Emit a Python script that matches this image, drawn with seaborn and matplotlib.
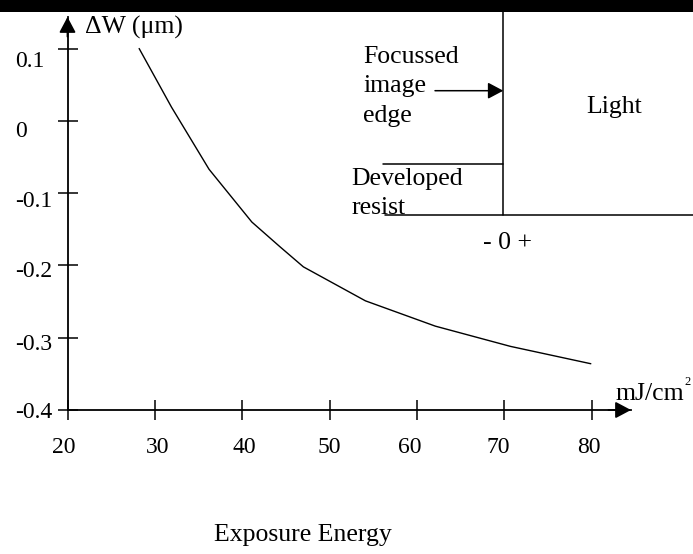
import matplotlib
matplotlib.use("Agg")
import matplotlib.pyplot as plt
import matplotlib.transforms as mtransforms
from matplotlib.lines import Line2D
from matplotlib.patches import Rectangle
import seaborn as sns
import pandas as pd

# Linewidth change versus exposure energy
energy = [28.2, 31.9, 36.2, 41.1, 44.3, 47.0, 54.1, 62.1, 70.7, 79.9]
delta_w = [0.100, 0.019, -0.067, -0.140, -0.174, -0.202, -0.249, -0.284, -0.312, -0.336]

x_ticks = [20, 30, 40, 50, 60, 70, 80]
x_tick_labels = ["20", "30", "40", "50", "60", "70", "80"]
y_ticks = [-0.4, -0.3, -0.2, -0.1, 0.0, 0.1]
y_tick_labels = ["-0.4", "-0.3", "-0.2", "-0.1", "0", "0.1"]

# hand-set nudges (pixels) of the tick labels
x_label_shift_px = [-4, 3, 2, 0, -7, -6, -3]
y_label_drop_px = [0, 4, 4, 6, 8, 10]

sns.set_theme(style="white")
plt.rcParams["font.family"] = ["Liberation Serif", "DejaVu Serif"]

W, H = 693, 554
fig = plt.figure(figsize=(W / 100, H / 100), dpi=100)


def fx(px):
    return px / W


def fy(py):
    return 1 - py / H


# axes frame: origin (20, -0.4) at pixel (67.5, 410)
ax = fig.add_axes([fx(67.5), fy(410), (631 - 67.5) / W, (410 - 17) / H])
df = pd.DataFrame({"energy": energy, "dw": delta_w})
sns.lineplot(data=df, x="energy", y="dw", ax=ax, color="black", lw=1.0, sort=False)

ax.set_xlim(20, 84.5)
ax.set_ylim(-0.4, 0.1436)

for side in ("top", "right"):
    ax.spines[side].set_visible(False)
for side in ("left", "bottom"):
    ax.spines[side].set_color("black")
    ax.spines[side].set_linewidth(1.3)

ax.set_xticks(x_ticks, labels=x_tick_labels)
ax.set_yticks(y_ticks, labels=y_tick_labels)
ax.tick_params(axis="both", direction="inout", length=14.4, width=1.1,
               color="black", labelcolor="black", labelsize=17,
               bottom=True, left=True)
ax.tick_params(axis="x", pad=12.0)
ax.tick_params(axis="y", pad=30.6)

for lab, dx in zip(ax.get_xticklabels(), x_label_shift_px):
    lab.set_transform(lab.get_transform() +
                      mtransforms.ScaledTranslation(dx / 100, 0, fig.dpi_scale_trans))
for lab, dy in zip(ax.get_yticklabels(), y_label_drop_px):
    lab.set_horizontalalignment("left")
    lab.set_transform(lab.get_transform() +
                      mtransforms.ScaledTranslation(0, -dy / 100, fig.dpi_scale_trans))

ax.set_xlabel("Exposure Energy", fontsize=18.5, color="black")
ax.xaxis.label.set_verticalalignment("baseline")
ax.xaxis.set_label_coords(0.418, -0.3333)

ax.set_ylabel("\u0394W (\u03bcm)", fontsize=18.5, color="black", rotation=0)
ax.yaxis.label.set_horizontalalignment("left")
ax.yaxis.label.set_verticalalignment("baseline")
ax.yaxis.set_label_coords(0.031, 0.9567)

# axis arrowheads
head = dict(arrowstyle="-|>,head_length=0.94,head_width=0.5", color="black",
            lw=1.3, shrinkA=0, shrinkB=0, mutation_scale=10)
ax.annotate("", xy=(0, 1), xycoords="axes fraction",
            xytext=(0, 0.95), textcoords="axes fraction", arrowprops=head)
ax.annotate("", xy=(1, 0), xycoords="axes fraction",
            xytext=(0.96, 0), textcoords="axes fraction", arrowprops=head)

ax.patch.set_alpha(0)

# dark band across the top edge
fig.add_artist(Rectangle((0, fy(12)), 1, 12 / H, transform=fig.transFigure,
                         facecolor="black", edgecolor="none"))

# edge schematic
seg_kw = dict(color="black", lw=1.1, transform=fig.transFigure)
fig.add_artist(Line2D([fx(503.3), fx(503.3)], [fy(12), fy(215)], **seg_kw))
fig.add_artist(Line2D([fx(385), fx(693)], [fy(215), fy(215)], **seg_kw))
fig.add_artist(Line2D([fx(383), fx(503.3)], [fy(164.3), fy(164.3)], **seg_kw))
ax.annotate("", xy=(fx(503.3), fy(90.7)), xycoords="figure fraction",
            xytext=(fx(435), fy(90.7)), textcoords="figure fraction",
            arrowprops=dict(arrowstyle="-|>,head_length=0.94,head_width=0.5",
                            color="black", lw=1.1, shrinkA=0, shrinkB=0,
                            mutation_scale=10))

txt_kw = dict(fontsize=18.5, color="black", va="baseline", ha="left")
fig.text(fx(363), fy(62.7), "Focussed", **txt_kw)
fig.text(fx(363), fy(92), "image", **txt_kw)
fig.text(fx(363), fy(121.7), "edge", **txt_kw)
fig.text(fx(586.7), fy(113), "Light", **txt_kw)
fig.text(fx(351.7), fy(185), "Developed", **txt_kw)
fig.text(fx(351.7), fy(214), "resist", **txt_kw)
fig.text(fx(483), fy(249), "- 0 +", **txt_kw)
fig.text(fx(615), fy(400), "mJ/cm", **txt_kw)
fig.text(fx(684.5), fy(385), "2", fontsize=9, color="black", va="baseline", ha="left")

fig.savefig("out.png", dpi=100, facecolor="white")
